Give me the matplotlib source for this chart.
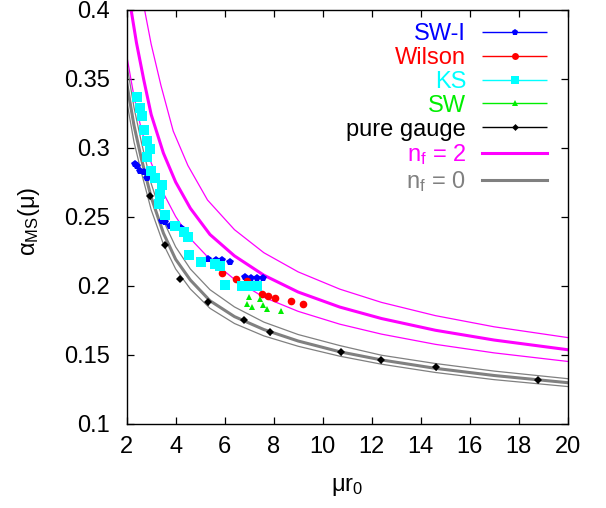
import numpy as np
import matplotlib
matplotlib.use('Agg')
import matplotlib.pyplot as plt
from matplotlib.container import ErrorbarContainer
from matplotlib.legend_handler import HandlerErrorbar

plt.rcParams['font.family'] = ['Liberation Sans', 'DejaVu Sans']
plt.rcParams['mathtext.fontset'] = 'custom'
plt.rcParams['mathtext.rm'] = 'Liberation Sans'
plt.rcParams['mathtext.it'] = 'Liberation Sans:italic'

# ---- lattice data ----
sw1_x = [2.35, 2.42, 2.56, 2.69, 2.82, 3.44, 3.58, 3.78, 4.05, 4.23,
         5.33, 5.64, 5.88, 6.22, 6.83, 7.06, 7.31, 7.55]
sw1_y = [0.288, 0.287, 0.283, 0.282, 0.278, 0.247, 0.246, 0.243, 0.242, 0.2415,
         0.219, 0.2188, 0.2184, 0.2174, 0.206, 0.2058, 0.2056, 0.2053]

wil_x = [5.91, 6.45, 6.92, 7.51, 7.78, 8.05, 8.70, 9.18]
wil_y = [0.2092, 0.2049, 0.2030, 0.1940, 0.1924, 0.1908, 0.1888, 0.1868]

ks_x = [2.42, 2.56, 2.62, 2.69, 2.83, 2.96, 2.83, 3.00, 3.17, 3.44, 3.37, 3.31,
        3.58, 3.98, 4.33, 4.51, 4.56, 5.03, 5.60, 5.81, 6.00, 6.69, 7.05, 7.31]
ks_y = [0.337, 0.329, 0.323, 0.313, 0.305, 0.299, 0.293, 0.283, 0.278, 0.273, 0.266, 0.259,
        0.251, 0.243, 0.2385, 0.235, 0.222, 0.217, 0.2157, 0.2145, 0.2005, 0.1998, 0.1996, 0.1996]

sw_x = [6.98, 7.43, 6.92, 7.10, 7.55, 7.74, 8.28]
sw_y = [0.1917, 0.1899, 0.1865, 0.1845, 0.1856, 0.1830, 0.1818]

pg_x = [2.95, 3.58, 4.19, 5.33, 6.79, 7.85, 10.73, 12.37, 14.61, 18.8]
pg_y = [0.265, 0.2294, 0.205, 0.188, 0.1753, 0.1664, 0.152, 0.146, 0.141, 0.1315]
pg_err = 0.002

# ---- perturbative curves ----
nf2_x = [2.18, 2.4, 2.7, 3.0, 3.5, 4.0, 4.6, 5.4, 6.4, 7.6, 9.0, 10.7, 12.4, 14.6, 17.0, 20.0]
nf2_y = [0.400, 0.376, 0.349, 0.324, 0.296, 0.275, 0.256, 0.237, 0.2215, 0.2075, 0.1953,
         0.1844, 0.1761, 0.1676, 0.1605, 0.1535]
nf2_hi_x = [2.73, 3.0, 3.4, 3.9, 4.5, 5.3, 6.4, 7.6, 9.0, 10.7, 12.4, 14.6, 17.0, 20.0]
nf2_hi_y = [0.400, 0.375, 0.345, 0.312, 0.287, 0.262, 0.2405, 0.2238, 0.2099, 0.1974,
            0.1878, 0.1782, 0.1701, 0.1623]
grid_x = [2.0, 2.3, 2.6, 3.0, 3.5, 4.0, 4.6, 5.4, 6.4, 7.6, 9.0, 10.7, 12.4, 14.6, 17.0, 20.0]
nf2_lo_y = [0.367, 0.337, 0.313, 0.289, 0.267, 0.250, 0.234, 0.219, 0.2045, 0.1915, 0.1813,
            0.172, 0.1648, 0.1574, 0.1512, 0.145]
nf0_y = [0.347, 0.316, 0.292, 0.264, 0.238, 0.219, 0.204, 0.189, 0.1775, 0.1681, 0.1598,
         0.152, 0.1461, 0.140, 0.1348, 0.1296]
nf0_hi_y = [0.361, 0.329, 0.304, 0.274, 0.247, 0.228, 0.212, 0.197, 0.1845, 0.1735, 0.1645,
            0.1565, 0.1495, 0.1435, 0.138, 0.1325]
nf0_lo_y = [0.334, 0.304, 0.282, 0.255, 0.230, 0.212, 0.1975, 0.1835, 0.1725, 0.1635, 0.156,
            0.1488, 0.143, 0.137, 0.1318, 0.1268]

x_ticks = [2, 4, 6, 8, 10, 12, 14, 16, 18, 20]
y_ticks = [0.1, 0.15, 0.2, 0.25, 0.3, 0.35, 0.4]
y_tick_labels = ['0.1', '0.15', '0.2', '0.25', '0.3', '0.35', '0.4']

MAG = '#ff00ff'
GRY = '#808080'
GRN = '#00ee00'

fig = plt.figure(figsize=(6.06, 5.08), dpi=100)
ax = fig.add_axes([0.209, 0.1663, 0.7277, 0.8148])

# curves
ax.plot(nf2_hi_x, nf2_hi_y, color=MAG, lw=0.9)
ax.plot(grid_x, nf2_lo_y, color=MAG, lw=0.9)
l_nf2, = ax.plot(nf2_x, nf2_y, color=MAG, lw=2.2, label=r'$\mathrm{n_f}$ = 2')
ax.plot(grid_x, nf0_hi_y, color=GRY, lw=0.9)
ax.plot(grid_x, nf0_lo_y, color=GRY, lw=0.9)
l_nf0, = ax.plot(grid_x, nf0_y, color=GRY, lw=2.2, label=r'$\mathrm{n_f}$ = 0')

# data points
series = [
    (sw1_x, sw1_y, 'p', 'blue', 5.5, 'SW-I', 4.5),
    (wil_x, wil_y, 'o', 'red', 5.5, 'Wilson', 5),
    (ks_x, ks_y, 's', 'cyan', 6.5, 'KS', 5.5),
    (sw_x, sw_y, '^', GRN, 5.0, 'SW', 4),
    (pg_x, pg_y, 'D', 'black', 4.0, 'pure gauge', 3.5),
]
handles = []
for xs, ys, mk, col, ms, lab, lms in series:
    err = pg_err if lab == 'pure gauge' else 0.001
    ax.errorbar(xs, ys, yerr=err, fmt=mk, color=col, ms=ms, mew=0,
                capsize=1.5, elinewidth=0.8, zorder=3)
    # proxy for a gnuplot-style legend sample
    h = ax.errorbar([np.nan], [np.nan], xerr=[1], fmt=mk, color=col, ms=lms, mew=0,
                    capsize=2.5, elinewidth=1.0, label=lab)
    handles.append(h)
handles += [l_nf2, l_nf0]

ax.set_xlim(2, 20)
ax.set_ylim(0.1, 0.4)
ax.set_xticks(x_ticks)
ax.set_yticks(y_ticks, y_tick_labels)
ax.tick_params(direction='in', top=True, right=True, length=5, width=0.9,
               labelsize=17)
ax.tick_params(axis='y', pad=12)
ax.tick_params(axis='x', pad=9)
for s in ax.spines.values():
    s.set_linewidth(1.0)

label_colors = ['blue', 'red', 'cyan', GRN, 'black', MAG, GRY]
ax.legend(handles=handles, loc='upper right',
          bbox_to_anchor=(547 / 606, 1 - 23 / 508), bbox_transform=fig.transFigure,
          frameon=False, markerfirst=False, fontsize=17, handlelength=2.75,
          handletextpad=0.68, labelspacing=0.08, borderpad=0, borderaxespad=0,
          labelcolor=label_colors,
          handler_map={ErrorbarContainer: HandlerErrorbar(xerr_size=1.375)})

fig.text(29 / 606, 1 - 221 / 508, r'$\mathrm{\alpha_{MS}(\mu)}$', rotation=90,
         ha='center', va='center', fontsize=17)
fig.text(347 / 606, 1 - 487 / 508, r'$\mathrm{\mu r_0}$', ha='center', va='center',
         fontsize=17)

fig.savefig('out.png', dpi=100)
